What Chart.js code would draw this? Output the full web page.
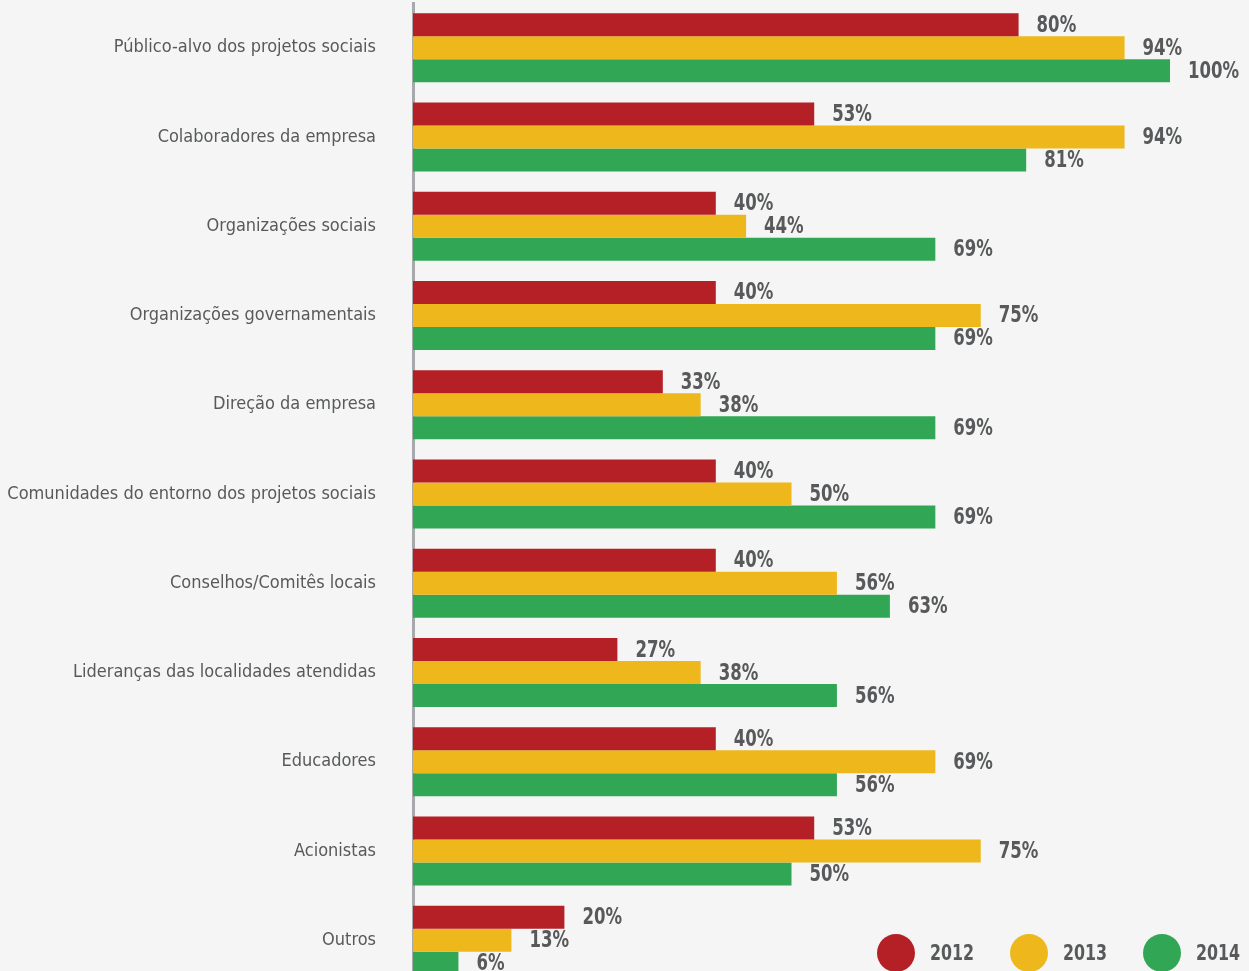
<!DOCTYPE html>
<html lang="pt-BR">
<head>
<meta charset="utf-8">
<title>Partes interessadas consultadas</title>
<script src="https://cdn.jsdelivr.net/npm/chart.js@4/dist/chart.umd.min.js"></script>
<style>
  html, body { margin: 0; padding: 0; background: #f4f5f4; overflow: hidden; }
  #wrap { position: relative; width: 1249px; height: 1000px; }
</style>
</head>
<body>
<div id="wrap"><canvas id="chart-publico" width="1249" height="1000"></canvas></div>
<script>
const categorias = [
    'Público-alvo dos projetos sociais',
    'Colaboradores da empresa',
    'Organizações sociais',
    'Organizações governamentais',
    'Direção da empresa',
    'Comunidades do entorno dos projetos sociais',
    'Conselhos/Comitês locais',
    'Lideranças das localidades atendidas',
    'Educadores',
    'Acionistas',
    'Outros'
];
const anos = ['2012', '2013', '2014'];
const valores2012 = [80, 53, 40, 40, 33, 40, 40, 27, 40, 53, 20];
const valores2013 = [94, 94, 44, 75, 38, 50, 56, 38, 69, 75, 13];
const valores2014 = [100, 81, 69, 69, 69, 69, 63, 56, 56, 50, 6];
const cores = ['#b52026', '#eeb71c', '#31a756'];

const fonte = '"DejaVu Sans Condensed", "Liberation Sans Narrow", sans-serif';
const corTexto = '#58595b';

// texto estreito: comprime na horizontal para imitar uma fonte condensada
function textoEstreito(ctx, texto, x, y, escala) {
    ctx.save();
    ctx.translate(x, y);
    ctx.scale(escala, 1);
    ctx.fillText(texto, 0, 0);
    ctx.restore();
}

// rótulo de porcentagem à direita de cada barra
const rotulosValor = {
    id: 'rotulosValor',
    afterDatasetsDraw(chart) {
        const ctx = chart.ctx;
        ctx.save();
        ctx.font = 'bold 23px ' + fonte;
        ctx.fillStyle = corTexto;
        ctx.textAlign = 'left';
        ctx.textBaseline = 'middle';
        chart.data.datasets.forEach((ds, i) => {
            chart.getDatasetMeta(i).data.forEach((bar, j) => {
                textoEstreito(ctx, ds.data[j] + '%', bar.x + 18, bar.y + 1, 0.8);
            });
        });
        ctx.restore();
    }
};

// legenda com círculos no canto inferior direito
const legendaCirculos = {
    id: 'legendaCirculos',
    afterDraw(chart) {
        const ctx = chart.ctx;
        const y = 953;
        const passo = 133;
        ctx.save();
        ctx.font = 'bold 22px ' + fonte;
        ctx.textBaseline = 'middle';
        chart.data.datasets.forEach((ds, i) => {
            const x = 896 + i * passo;
            ctx.beginPath();
            ctx.arc(x, y, 19, 0, Math.PI * 2);
            ctx.fillStyle = ds.backgroundColor;
            ctx.fill();
            ctx.fillStyle = corTexto;
            textoEstreito(ctx, ds.label, x + 34, y + 1, 0.8);
        });
        ctx.restore();
    }
};

const serie = (i, dados) => ({
    label: anos[i],
    data: dados,
    backgroundColor: cores[i],
    borderWidth: 0,
    barPercentage: 1,
    categoryPercentage: 0.773
});

new Chart(document.getElementById('chart-publico'), {
    type: 'bar',
    data: {
        labels: categorias,
        datasets: [serie(0, valores2012), serie(1, valores2013), serie(2, valores2014)]
    },
    options: {
        indexAxis: 'y',
        responsive: false,
        animation: false,
        layout: { padding: { top: 3, right: 79, bottom: 15, left: 0 } },
        plugins: {
            legend: { display: false },
            tooltip: { enabled: false }
        },
        scales: {
            x: {
                display: false,
                min: 0,
                max: 100
            },
            y: {
                afterFit(scale) { scale.width = 413; },
                grid: {
                    display: true,
                    color: 'rgba(0,0,0,0)',
                    drawOnChartArea: false,
                    drawTicks: true,
                    tickLength: 37
                },
                border: { display: true, color: '#a7a9ac', width: 3 },
                ticks: {
                    padding: 0,
                    color: corTexto,
                    font: { family: fonte, size: 18, lineHeight: 0.3 }
                }
            }
        }
    },
    plugins: [rotulosValor, legendaCirculos]
});
</script>
</body>
</html>
